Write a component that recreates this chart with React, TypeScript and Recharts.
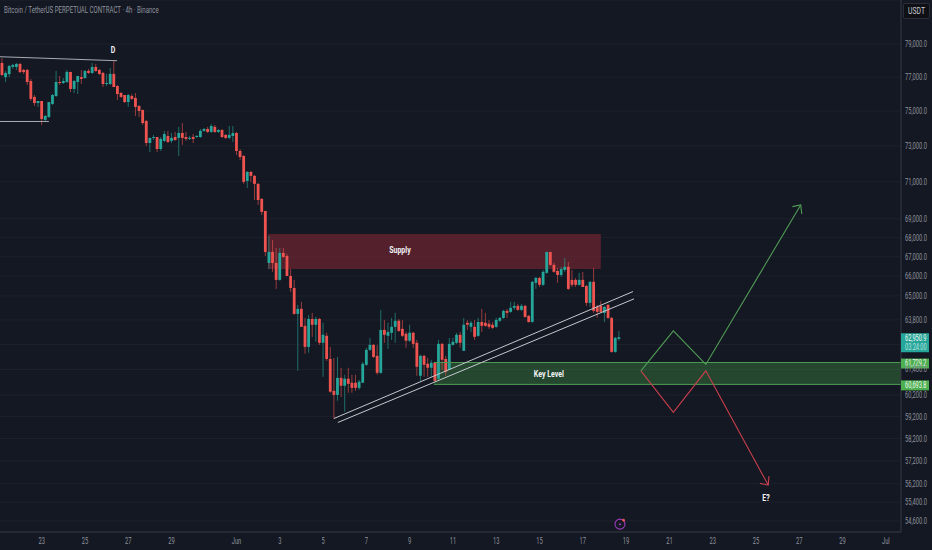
import React from 'react';
import { ComposedChart, Bar, Line, XAxis, YAxis, CartesianGrid, ReferenceArea, ReferenceLine, ReferenceDot } from 'recharts';

// 4h candles, bar 0 is the first one on the left edge
const opens = [
  77850, 77000, 77180, 77610, 77610, 77790, 77430, 77430, 76770, 75830, 75470, 75590, 74490, 74660, 75420, 75880, 76710, 76650, 76710, 77310,
  76300, 76710, 77000, 76950, 77370, 77250, 77610, 77430, 77250, 76590, 76590, 77190, 76470, 76060, 75940, 75530, 75880, 75770, 75300, 75070,
  74430, 73170, 73460, 73510, 72830, 73290, 73570, 73290, 73510, 73460, 73740, 73510, 73400, 73510, 73510, 73510, 73860, 73970, 73800, 74090,
  73800, 73910, 73630, 73460, 73570, 73740, 72720, 72440, 71050, 71550, 71330, 70890, 70070, 69420, 66680, 67250, 66680, 65810, 67200, 67040,
  66010, 65400, 64100, 64350, 63510, 62480, 63850, 63560, 63850, 62680, 63020, 61900, 60390, 60200, 61000, 60630, 60960, 60770, 60770, 60530,
  60770, 61620, 62340, 62580, 62050, 61240, 63310, 63020, 63170, 63460, 63760, 63360, 63120, 62780, 63170, 62680, 61100, 62050, 61670, 61480,
  61720, 60960, 62630, 61900, 61380, 62580, 62680, 63070, 62290, 63660, 63460, 63460, 63020, 63700, 63660, 63610, 63560, 63460, 63760, 63900,
  64250, 64200, 64400, 64500, 64300, 64500, 64000, 63700, 65660, 65910, 65560, 66170, 67250, 66580, 66270, 66060, 66320, 66480, 65810, 65810,
  65560, 65810, 65500, 64650, 65710, 64450, 64500, 64150, 64550, 63900, 62240, 62870,
];
const highs = [
  78150, 77360, 77730, 77790, 77850, 77850, 77490, 77490, 76890, 75940, 75590, 75590, 74780, 75530, 76000, 77370, 77070, 76950, 77430, 77310,
  76830, 77070, 77430, 77430, 77490, 77850, 77790, 77490, 77310, 77190, 77550, 78030, 76530, 76120, 75940, 76000, 76000, 76060, 75360, 75070,
  74490, 73460, 73630, 73510, 73510, 73860, 73860, 73740, 73800, 74090, 74310, 73800, 73570, 73680, 73630, 73970, 74030, 74090, 74260, 74200,
  73970, 73970, 73680, 74140, 74140, 73800, 72830, 72500, 71600, 71600, 71380, 70940, 70120, 69420, 68090, 67880, 67460, 67460, 67460, 67150,
  66370, 65810, 64550, 64700, 63900, 64050, 64150, 63950, 63900, 63660, 63170, 62480, 61950, 62000, 61480, 61150, 61480, 61150, 61150, 60910,
  61760, 62440, 62920, 62630, 62580, 64300, 63800, 63660, 63900, 64150, 63850, 63800, 63210, 63560, 63210, 62820, 62100, 62100, 61950, 61860,
  61760, 62820, 62680, 62050, 62920, 62920, 63170, 63210, 63900, 63800, 63760, 63800, 63900, 64350, 64150, 63800, 63700, 63900, 63950, 64300,
  64350, 64700, 64700, 64600, 64600, 64550, 64050, 65760, 65960, 65960, 66320, 67250, 67250, 66680, 66420, 66480, 66940, 66730, 66320, 65910,
  66170, 66220, 65560, 65760, 66420, 64550, 64750, 64500, 64600, 63950, 62970, 63260,
];
const lows = [
  77070, 76710, 77000, 77490, 77430, 77250, 77190, 76530, 75590, 75300, 75240, 74200, 74370, 74600, 75360, 75830, 76530, 76590, 76650, 76120,
  76060, 76000, 76590, 76890, 77190, 77190, 77310, 77130, 76410, 76470, 76530, 76410, 75650, 75770, 75470, 75240, 75650, 74720, 74660, 74200,
  73000, 72660, 73340, 72660, 72720, 73230, 73170, 73170, 73290, 72440, 73060, 73290, 73340, 73170, 73460, 73460, 73800, 73740, 73740, 73740,
  73740, 73460, 73400, 73400, 73230, 72500, 72220, 70890, 70670, 71000, 70010, 69740, 69200, 67040, 66370, 66220, 65350, 65760, 66940, 66010,
  65200, 64050, 61340, 63460, 62150, 62200, 62970, 62730, 62580, 61050, 61810, 60300, 59100, 59930, 60110, 59420, 60300, 60300, 60390, 60440,
  60770, 61570, 62290, 61950, 61150, 61190, 62680, 62390, 62820, 62680, 63210, 62970, 62440, 62730, 62440, 61100, 60860, 61050, 61050, 61050,
  60820, 60910, 61380, 61100, 61380, 62530, 62630, 62440, 62290, 63310, 63210, 62820, 62970, 63210, 63460, 63360, 63360, 63410, 63700, 63850,
  63900, 64150, 64300, 64250, 64250, 63900, 63660, 63660, 65350, 65450, 65500, 66120, 66530, 66170, 65660, 65960, 66220, 65300, 65450, 65450,
  65500, 65450, 64500, 64450, 64150, 63900, 64150, 63700, 63850, 62200, 62200, 62780,
];
const closes = [
  77130, 77250, 77670, 77730, 77790, 77300, 77300, 76710, 75710, 75470, 75590, 74540, 74720, 75530, 75940, 76710, 76650, 76770, 77310, 76300,
  76770, 77070, 76890, 77370, 77250, 77610, 77370, 77190, 76590, 76650, 77190, 76410, 76000, 75830, 75530, 75940, 75710, 75240, 75010, 74310,
  73170, 73460, 73510, 72830, 73400, 73680, 73230, 73460, 73340, 73740, 73460, 73400, 73460, 73400, 73570, 73860, 73970, 73800, 74140, 73800,
  73910, 73510, 73460, 73630, 73740, 72720, 72380, 71000, 71550, 71330, 70890, 70010, 69370, 67250, 67250, 66680, 65810, 67200, 66990, 66010,
  65400, 64100, 64350, 63460, 62480, 63850, 63560, 63850, 62680, 63070, 61900, 60350, 60200, 61000, 60630, 60960, 60720, 60530, 60530, 60820,
  61670, 62340, 62580, 62000, 61240, 63310, 63070, 63210, 63460, 63760, 63260, 63020, 62780, 63170, 62630, 61530, 62050, 61620, 61480, 61720,
  60860, 62630, 61860, 61290, 62630, 62730, 63070, 62680, 63560, 63560, 63660, 62970, 63700, 63510, 63510, 63460, 63410, 63800, 63900, 64250,
  64150, 64400, 64500, 64300, 64500, 63950, 63700, 65710, 65910, 65560, 66220, 67250, 66580, 66220, 66060, 66370, 66480, 65350, 65560, 65560,
  65810, 65450, 64650, 65710, 64250, 64200, 64200, 64450, 63900, 62240, 62920, 62950.9,
];

const priceTicks = [79000, 77000, 75000, 73000, 71000, 69000, 68000, 67000, 66000, 65000, 63800, 62600, 61400, 60200, 59200, 58200, 57200, 56200, 55400, 54600];
const hiddenPriceLabels = [62600]; // sits under the last-price tag
const dateTicks = [11, 23, 35, 47, 65, 77, 89, 101, 113, 125, 137, 149, 161, 173, 185, 197, 209, 221, 233, 245];
const dateLabels = ['23', '25', '27', '29', 'Jun', '3', '5', '7', '9', '11', '13', '15', '17', '19', '21', '23', '25', '27', '29', 'Jul'];

// drawings on the chart, in [bar, price]
const flagTop = [[-0.55, 78226], [31.9, 77985]];
const flagBottom = [[-0.55, 74400], [13, 74400]];
const channelTop = [[92, 59110], [174.9, 65217]];
const channelBottom = [[93.1, 58930], [175.2, 64850]];
const bullPath = [[177.1, 61335], [186.1, 63260], [195.1, 61640], [221.4, 69744]];
const bullHead = [[219.1, 69650], [221.4, 69744], [221.7, 69260]];
const bearPath = [[177.1, 61335], [186.1, 59395], [195.1, 61335], [212.4, 56140]];
const bearHead = [[210.1, 56214], [212.4, 56140], [212.6, 56533]];

const supplyZone = { x1: 73.7, x2: 166, top: 68190, bottom: 66370 };
const keyZone = { x1: 119.7, x2: 249.2, top: 61729.2, bottom: 60693.8 };

const BG = '#141822';
const UP = '#26a69a';
const DOWN = '#ef5350';
const GREEN = '#4f9c55';
const RED = '#c93f4d';
const LABEL = '#8f939e';
const FONT = 'Roboto, sans-serif';

const candles = opens.map((o, i) => ({
  bar: i,
  open: o,
  close: closes[i],
  high: highs[i],
  low: lows[i],
  range: [lows[i], highs[i]],
}));

const toLine = (pts: number[][]) => pts.map(([bar, price]) => ({ bar, price }));

// the bar covers low..high, the body is placed inside it on the same log scale
const CandleShape = (p: any) => {
  const { open, close, high, low } = p.payload;
  const color = close >= open ? UP : DOWN;
  const mid = p.x + p.width / 2;
  const yOf = (v: number) => p.y + (p.height * Math.log(high / v)) / Math.log(high / low);
  const top = yOf(Math.max(open, close));
  const bottom = yOf(Math.min(open, close));
  return (
    <g>
      <rect x={mid - 0.5} y={p.y} width={1} height={p.height} fill={color} opacity={0.6} />
      <rect x={mid - 1.4} y={top} width={2.8} height={Math.max(bottom - top, 1)} fill={color} />
    </g>
  );
};

// the reference text is squeezed sideways, so scale it rather than stretch the spacing
const Squeezed = ({ x, y, sx, children, ...rest }: any) => (
  <text transform={`translate(${x} ${y}) scale(${sx} 1)`} fontFamily={FONT} {...rest}>
    {children}
  </text>
);

const PriceTick = ({ y, payload }: any) =>
  hiddenPriceLabels.includes(payload.value) ? null : (
    <Squeezed x={905} y={y + 3} sx={0.68} fill={LABEL} fontSize={8.5}>
      {payload.value.toLocaleString('en-US', { minimumFractionDigits: 1 })}
    </Squeezed>
  );

const DateTick = ({ x, payload }: any) => (
  <Squeezed x={x} y={544} sx={0.68} fill={LABEL} fontSize={8.5} textAnchor="middle">
    {dateLabels[dateTicks.indexOf(payload.value)]}
  </Squeezed>
);

const note = (text: string, sx = 0.78, size = 9) => ({
  content: ({ viewBox }: any) => (
    <Squeezed x={viewBox.x + viewBox.width / 2} y={viewBox.y + viewBox.height / 2 + 3} sx={sx} fill="#f2f3f5" fontSize={size} fontWeight={700} textAnchor="middle">
      {text}
    </Squeezed>
  ),
});

const tag = (lines: string[], fill: string, top: number, height: number) => ({
  content: ({ viewBox }: any) => (
    <g>
      <rect x={901} y={viewBox.y + top} width={28} height={height} fill={fill} />
      {lines.map((t, i) => (
        <Squeezed key={t} x={905} y={viewBox.y + top + 7.5 + i * 9} sx={0.66} fill={i === 0 ? '#eef7ee' : '#b9e4df'} fontSize={8.5}>
          {t}
        </Squeezed>
      ))}
    </g>
  ),
});

const BoltIcon = ({ cx, cy }: any) => (
  <g>
    <circle cx={cx} cy={cy} r={5} fill="#141822" stroke="#9c3cbc" strokeWidth={1.1} />
    <path d={`M${cx + 1} ${cy - 3} L${cx - 1.5} ${cy + 0.5} L${cx + 0.5} ${cy + 0.5} L${cx - 1} ${cy + 3} L${cx + 1.5} ${cy - 0.5} L${cx - 0.5} ${cy - 0.5} Z`} fill="#b24bd6" />
    <circle cx={cx + 3.6} cy={cy - 4} r={1.3} fill="#ef5350" />
  </g>
);

const drawLine = (pts: number[][], stroke: string, width = 1) => (
  <Line
    data={toLine(pts)}
    dataKey="price"
    type="linear"
    stroke={stroke}
    strokeWidth={width}
    dot={false}
    activeDot={false}
    legendType="none"
    isAnimationActive={false}
  />
);

export default function App() {
  return (
    <div style={{ position: 'absolute', left: 0, top: 0, width: 932, height: 550, background: BG, overflow: 'hidden' }}>
      <ComposedChart width={932} height={550} data={candles} margin={{ top: 0, right: 0, bottom: 0, left: 0 }}>
        <CartesianGrid horizontal vertical={false} stroke="#1d212c" />
        <XAxis
          dataKey="bar"
          type="number"
          domain={[-0.55, 249.2]}
          allowDataOverflow
          ticks={dateTicks}
          interval={0}
          height={18}
          tick={<DateTick />}
          tickLine={false}
          stroke="#343843"
        />
        <YAxis
          orientation="right"
          type="number"
          scale="log"
          domain={[54137, 81739]}
          allowDataOverflow
          ticks={priceTicks}
          interval={0}
          width={31}
          tick={<PriceTick />}
          tickLine={false}
          stroke="#343843"
        />
        <Bar dataKey="range" barSize={3} shape={<CandleShape />} isAnimationActive={false} />

        <ReferenceArea x1={supplyZone.x1} x2={supplyZone.x2} y1={supplyZone.bottom} y2={supplyZone.top} fill="#7d2633" fillOpacity={0.6} stroke="none" />
        <ReferenceArea x1={keyZone.x1} x2={keyZone.x2} y1={keyZone.bottom} y2={keyZone.top} fill="#3f8a45" fillOpacity={0.42} stroke="none" />
        <ReferenceLine segment={[{ x: keyZone.x1, y: keyZone.top }, { x: keyZone.x2, y: keyZone.top }]} stroke={GREEN} />
        <ReferenceLine segment={[{ x: keyZone.x1, y: keyZone.bottom }, { x: keyZone.x2, y: keyZone.bottom }]} stroke={GREEN} />

        {drawLine(flagTop, '#a9acb4')}
        {drawLine(flagBottom, '#a9acb4')}
        {drawLine(channelTop, '#c6c8ce')}
        {drawLine(channelBottom, '#c6c8ce')}
        {drawLine(bullPath, GREEN, 1.1)}
        {drawLine(bullHead, GREEN, 1.1)}
        {drawLine(bearPath, RED, 1.1)}
        {drawLine(bearHead, RED, 1.1)}

        <ReferenceDot x={30.8} y={78630} r={0} stroke="none" label={note('D')} />
        <ReferenceDot x={110.3} y={67356} r={0} stroke="none" label={note('Supply')} />
        <ReferenceDot x={151.6} y={61190} r={0} stroke="none" label={note('Key Level')} />
        <ReferenceDot x={211.8} y={55575} r={0} stroke="none" label={note('E?')} />
        <ReferenceDot x={171.3} y={54467} r={5} shape={<BoltIcon />} />

        <ReferenceDot x={249.2} y={62950.9} r={0} stroke="none" label={tag(['62,950.9', '03:24:00'], '#26a69a', -4, 19)} />
        <ReferenceDot x={249.2} y={61729.2} r={0} stroke="none" label={tag(['61,729.2'], '#4caf50', -4, 10)} />
        <ReferenceDot x={249.2} y={60693.8} r={0} stroke="none" label={tag(['60,693.8'], '#4caf50', -4, 10)} />
      </ComposedChart>

      <div style={{ position: 'absolute', left: 4, top: 5, color: LABEL, fontFamily: FONT, fontSize: 9, lineHeight: '10px', whiteSpace: 'nowrap', transform: 'scaleX(0.68)', transformOrigin: 'left top' }}>
        Bitcoin / TetherUS PERPETUAL CONTRACT · 4h · Binance
      </div>
      <div style={{ position: 'absolute', left: 903, top: 3, width: 25, height: 14, background: '#0e1016', border: '1px solid #2b2e38', borderRadius: 2, color: '#c9cbd0', fontFamily: FONT, fontSize: 8.5, lineHeight: '14px', textAlign: 'center' }}>
        <span style={{ display: 'inline-block', transform: 'scaleX(0.8)' }}>USDT</span>
      </div>
    </div>
  );
}
